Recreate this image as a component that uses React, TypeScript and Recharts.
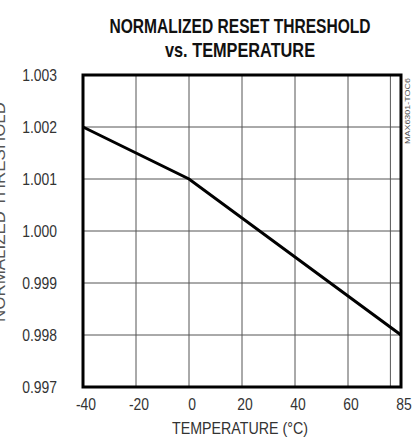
import React from "react";
import { LineChart, Line, XAxis, YAxis, CartesianGrid, ReferenceArea } from "recharts";

// measured points (°C → normalized threshold)
const temps = [-40, 0, 85];
const thresholds = [1.002, 1.001, 0.998];

// axis is not linear past 60 °C: 60..85 takes one 20° grid step
const gridTemps = [-40, -20, 0, 20, 40, 60, 80, 85];
const tickLabels = ["-40", "-20", "0", "20", "40", "60", "", "85"];
const yTicks = [0.997, 0.998, 0.999, 1.0, 1.001, 1.002, 1.003];

const xPos = (t: number) => (t <= 60 ? t : 60 + ((t - 60) * 20) / 25);

const data = temps.map((t, i) => ({ x: xPos(t), v: thresholds[i] }));
const xTicks = gridTemps.map(xPos);

const font = "'Liberation Sans', Arial, Helvetica, sans-serif";
const narrow = 0.82;

// narrow helvetica look: squeeze text horizontally
function XTick(props: any) {
  const { x, y, payload } = props;
  const label = tickLabels[xTicks.indexOf(payload.value)] ?? "";
  return (
    <g transform={`translate(${x + 3},${y + 21}) scale(${narrow},1)`}>
      <text x={0} y={0} textAnchor="middle" fontFamily={font} fontSize={17} fill="#333">
        {label}
      </text>
    </g>
  );
}

function YTick(props: any) {
  const { x, y, payload } = props;
  return (
    <g transform={`translate(${x},${y + 6}) scale(${narrow},1)`}>
      <text x={0} y={0} textAnchor="end" fontFamily={font} fontSize={17} fill="#333">
        {Number(payload.value).toFixed(3)}
      </text>
    </g>
  );
}

export default function App() {
  return (
    <div style={{ position: "relative", width: 413, height: 440, background: "#fff" }}>
      <style>{"body{margin:0}"}</style>
      <LineChart width={413} height={440} data={data} margin={{ top: 75, right: 12, bottom: 23, left: 0 }}>
        <CartesianGrid stroke="#555" strokeWidth={1} />
        <XAxis
          type="number"
          dataKey="x"
          domain={[xPos(-40), xPos(85)]}
          ticks={xTicks}
          tick={<XTick />}
          tickLine={false}
          axisLine={false}
          tickSize={0}
          height={30}
          interval={0}
        />
        <YAxis
          type="number"
          domain={[0.997, 1.003]}
          ticks={yTicks}
          tick={<YTick />}
          tickLine={false}
          axisLine={false}
          tickSize={0}
          tickMargin={26}
          width={83}
          interval={0}
        />
        <ReferenceArea
          x1={xPos(-40)}
          x2={xPos(85)}
          y1={0.997}
          y2={1.003}
          fill="none"
          fillOpacity={0}
          stroke="#000"
          strokeWidth={3}
          ifOverflow="visible"
        />
        <Line
          type="linear"
          dataKey="v"
          stroke="#000"
          strokeWidth={3}
          dot={false}
          isAnimationActive={false}
        />
      </LineChart>
      <svg width={413} height={440} style={{ position: "absolute", top: 0, left: 0, pointerEvents: "none" }}>
        <g fontFamily={font} fontWeight="bold" fontSize={21} fill="#111">
          <text x={240} y={33} textAnchor="middle" textLength={261} lengthAdjust="spacingAndGlyphs">
            NORMALIZED RESET THRESHOLD
          </text>
          <text x={240} y={57} textAnchor="middle" textLength={150} lengthAdjust="spacingAndGlyphs">
            vs. TEMPERATURE
          </text>
        </g>
        <text
          x={5}
          y={212}
          transform="rotate(-90, 5, 212)"
          textAnchor="middle"
          fontFamily={font}
          fontSize={17}
          fill="#555"
          textLength={220}
          lengthAdjust="spacingAndGlyphs"
        >
          NORMALIZED THRESHOLD
        </text>
        <text
          x={240}
          y={434}
          textAnchor="middle"
          fontFamily={font}
          fontSize={17}
          fill="#333"
          textLength={136}
          lengthAdjust="spacingAndGlyphs"
        >
          TEMPERATURE (°C)
        </text>
        <text
          x={410}
          y={111}
          transform="rotate(-90, 410, 111)"
          textAnchor="middle"
          fontFamily={font}
          fontSize={8}
          fill="#555"
          textLength={66}
          lengthAdjust="spacingAndGlyphs"
        >
          MAX6301-TOC6
        </text>
      </svg>
    </div>
  );
}
